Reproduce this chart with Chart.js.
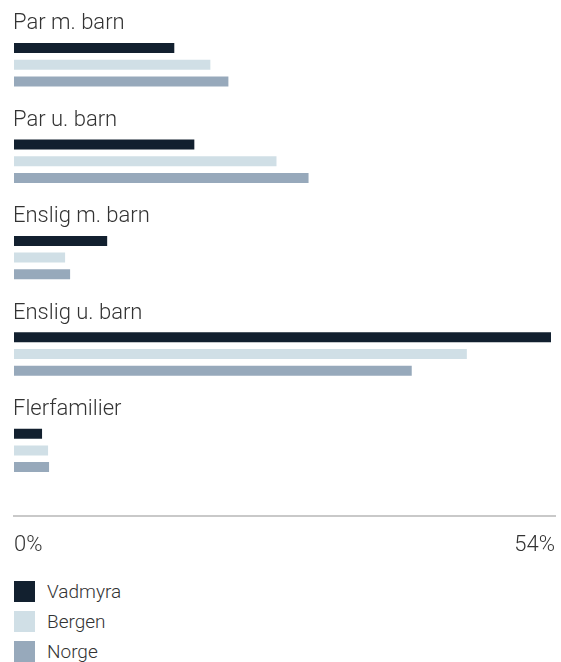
<!DOCTYPE html>
<html>
<head>
<meta charset="utf-8">
<script src="https://cdn.jsdelivr.net/npm/chart.js@4/dist/chart.umd.min.js"></script>
<style>
  html, body { margin: 0; background: #fff; overflow: hidden; font-family: Roboto, "Open Sans", sans-serif; font-weight: 300; }
  #wrap { position: relative; width: 561px; height: 570px; }
  #legend { list-style: none; margin: 0; padding: 0; position: absolute; left: 14px; top: 581px; }
  #legend li { height: 30px; display: flex; align-items: flex-start; font-size: 19px; color: #333; line-height: 21px; }
  #legend span { display: inline-block; width: 21px; height: 21px; margin-right: 12px; }
</style>
</head>
<body>
<div id="wrap"><canvas id="myChart"></canvas></div>
<ul id="legend"></ul>
<script>
// kategorier og serier
const categories = ['Par m. barn', 'Par u. barn', 'Enslig m. barn', 'Enslig u. barn', 'Flerfamilier'];
const seriesNames = ['Vadmyra', 'Bergen', 'Norge'];
const seriesColors = ['#12202f', '#d0dfe6', '#97a9bb'];
const vadmyra = [16.0, 18.0, 9.3, 53.6, 2.8];
const bergen = [19.6, 26.2, 5.1, 45.2, 3.4];
const norge = [21.4, 29.4, 5.6, 39.7, 3.5];
const xTicks = [0, 54];

const values = [vadmyra, bergen, norge];
const fontFam = 'Roboto, "Open Sans", sans-serif';

// tegner kategorinavn over hver gruppe
const groupLabels = {
  id: 'groupLabels',
  afterDatasetsDraw(chart) {
    const ctx = chart.ctx;
    const y = chart.scales.y;
    ctx.save();
    ctx.font = '300 22px ' + fontFam;
    ctx.fillStyle = '#333';
    ctx.textAlign = 'left';
    ctx.textBaseline = 'alphabetic';
    categories.forEach((c, i) => {
      ctx.fillText(c, chart.chartArea.left - 1, y.getPixelForValue(i) - 35.5);
    });
    ctx.restore();
  }
};

const ctx = document.getElementById('myChart').getContext('2d');
const myChart = new Chart(ctx, {
  type: 'bar',
  data: {
    labels: categories,
    datasets: seriesNames.map((name, i) => ({
      label: name,
      data: values[i],
      backgroundColor: seriesColors[i],
      barPercentage: 0.6,
      categoryPercentage: 0.52,
    })),
  },
  options: {
    indexAxis: 'y',
    responsive: true,
    maintainAspectRatio: false,
    animation: false,
    layout: { padding: { top: 16.6, bottom: 71.4, left: 14, right: 6 } },
    plugins: {
      legend: { display: false },
      tooltip: { enabled: false },
    },
    scales: {
      y: { display: false },
      x: {
        min: 0,
        max: 54,
        position: { y: 4.68 }, // aksen ligger litt under siste gruppe
        grid: { display: false, drawTicks: true, tickLength: 16 },
        border: { display: true, color: '#c9c9c9', width: 2 },
        afterBuildTicks: (scale) => { scale.ticks = xTicks.map(v => ({ value: v })); },
        ticks: {
          align: 'inner',
          padding: 0,
          color: '#333',
          font: { family: fontFam, size: 22, weight: 300 },
          callback: (v) => v + '%',
        },
      },
    },
  },
  plugins: [groupLabels],
});

// legende
const legend = document.getElementById('legend');
seriesNames.forEach((name, i) => {
  const li = document.createElement('li');
  li.innerHTML = `<span style="background:${seriesColors[i]}"></span>${name}`;
  legend.appendChild(li);
});
</script>
</body>
</html>
